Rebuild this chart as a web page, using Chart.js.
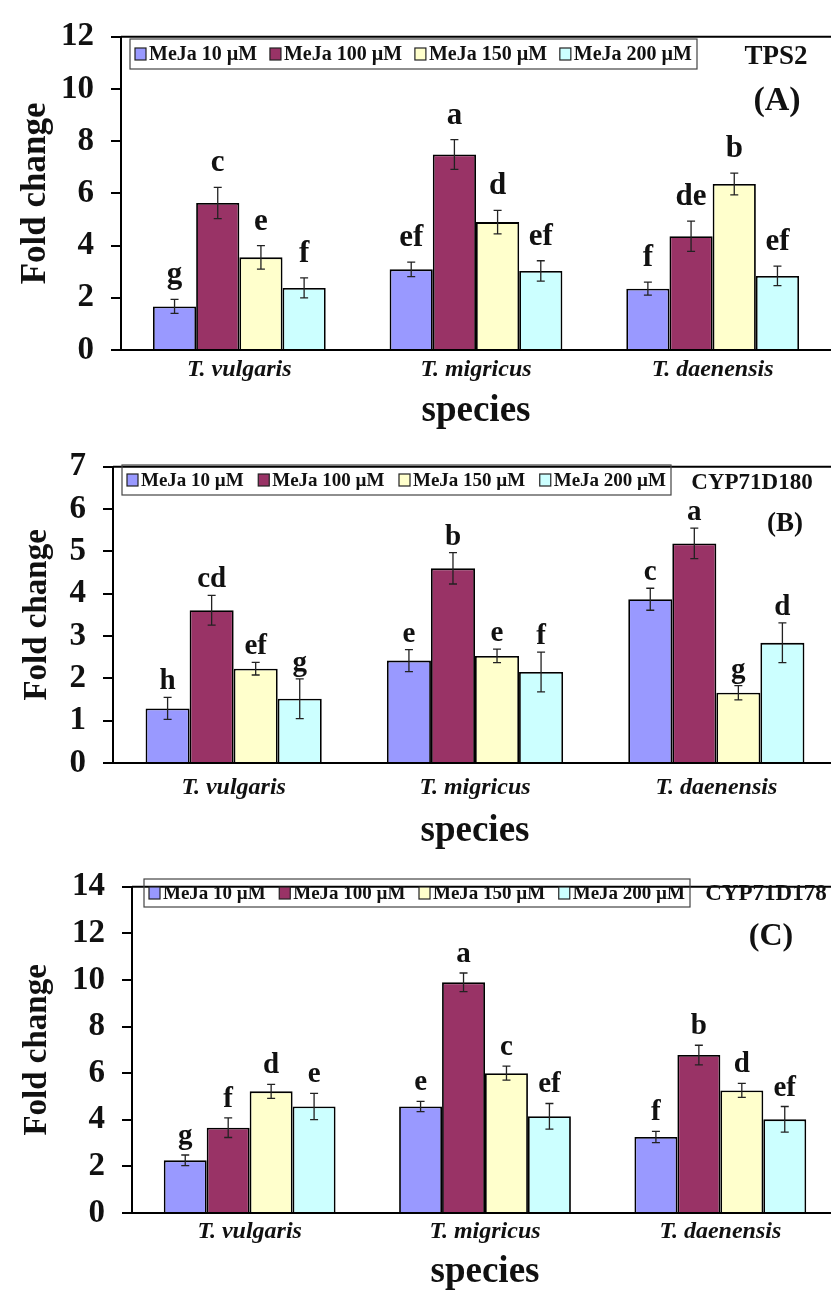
<!DOCTYPE html>
<html>
<head>
<meta charset="utf-8">
<script src="https://cdn.jsdelivr.net/npm/chart.js@4.4.1/dist/chart.umd.min.js"></script>
<style>
  html, body { margin: 0; padding: 0; background: #fff; overflow: hidden; }
  .panel { position: absolute; left: 0; }
</style>
</head>
<body>
<canvas id="chartA" class="panel" width="831" height="430" style="top:0px"></canvas>
<canvas id="chartB" class="panel" width="837" height="420" style="top:430px"></canvas>
<canvas id="chartC" class="panel" width="838" height="441" style="top:850px"></canvas>
<script>
// categories and series
const species = ['T. vulgaris', 'T. migricus', 'T. daenensis'];
const treatments = ['MeJa 10 µM', 'MeJa 100 µM', 'MeJa 150 µM', 'MeJa 200 µM'];
const treatmentColors = ['#9999ff', '#993366', '#ffffcc', '#ccffff'];

// (A) TPS2
const tps2Mean10 = [1.67, 3.09, 2.35];
const tps2Mean100 = [5.63, 7.49, 4.36];
const tps2Mean150 = [3.55, 4.90, 6.36];
const tps2Mean200 = [2.38, 3.03, 2.84];
const tps2Err10 = [0.27, 0.28, 0.25];
const tps2Err100 = [0.60, 0.57, 0.58];
const tps2Err150 = [0.45, 0.45, 0.42];
const tps2Err200 = [0.38, 0.39, 0.37];
const tps2Letters10 = ['g', 'ef', 'f'];
const tps2Letters100 = ['c', 'a', 'de'];
const tps2Letters150 = ['e', 'd', 'b'];
const tps2Letters200 = ['f', 'ef', 'ef'];
const tps2Ticks = [0, 2, 4, 6, 8, 10, 12];

// (B) CYP71D180
const cyp180Mean10 = [1.29, 2.42, 3.87];
const cyp180Mean100 = [3.61, 4.60, 5.19];
const cyp180Mean150 = [2.23, 2.53, 1.66];
const cyp180Mean200 = [1.52, 2.15, 2.84];
const cyp180Err10 = [0.26, 0.26, 0.26];
const cyp180Err100 = [0.35, 0.37, 0.36];
const cyp180Err150 = [0.15, 0.16, 0.17];
const cyp180Err200 = [0.47, 0.47, 0.47];
const cyp180Letters10 = ['h', 'e', 'c'];
const cyp180Letters100 = ['cd', 'b', 'a'];
const cyp180Letters150 = ['ef', 'e', 'g'];
const cyp180Letters200 = ['g', 'f', 'd'];
const cyp180Ticks = [0, 1, 2, 3, 4, 5, 6, 7];

// (C) CYP71D178
const cyp178Mean10 = [2.26, 4.57, 3.26];
const cyp178Mean100 = [3.66, 9.90, 6.78];
const cyp178Mean150 = [5.22, 6.00, 5.26];
const cyp178Mean200 = [4.57, 4.15, 4.02];
const cyp178Err10 = [0.23, 0.22, 0.24];
const cyp178Err100 = [0.42, 0.40, 0.42];
const cyp178Err150 = [0.30, 0.30, 0.30];
const cyp178Err200 = [0.56, 0.55, 0.55];
const cyp178Letters10 = ['g', 'e', 'f'];
const cyp178Letters100 = ['f', 'a', 'b'];
const cyp178Letters150 = ['d', 'c', 'd'];
const cyp178Letters200 = ['e', 'ef', 'ef'];
const cyp178Ticks = [0, 2, 4, 6, 8, 10, 12, 14];

const SERIF = "'Liberation Serif', 'Times New Roman', 'DejaVu Serif', serif";

// draws top frame line, error bars, letters, legend box and panel labels
function makeDecor(p) {
    return {
        id: 'decor_' + p.tag,
        afterDatasetsDraw(chart) {
            const ctx = chart.ctx;
            const area = chart.chartArea;
            const yScale = chart.scales.y;
            ctx.save();

            // top frame
            ctx.strokeStyle = '#000';
            ctx.lineWidth = 2;
            ctx.beginPath();
            ctx.moveTo(area.left, area.top);
            ctx.lineTo(area.right, area.top);
            ctx.stroke();

            // error bars and significance letters
            ctx.font = 'bold ' + p.letterSize + 'px ' + SERIF;
            ctx.textAlign = 'center';
            ctx.textBaseline = 'alphabetic';
            chart.data.datasets.forEach((ds, i) => {
                const meta = chart.getDatasetMeta(i);
                meta.data.forEach((bar, j) => {
                    const v = ds.data[j];
                    const e = p.errors[i][j];
                    const yHi = yScale.getPixelForValue(v + e);
                    const yLo = yScale.getPixelForValue(v - e);
                    ctx.strokeStyle = '#222';
                    ctx.lineWidth = 1.3;
                    ctx.beginPath();
                    ctx.moveTo(bar.x, yHi);
                    ctx.lineTo(bar.x, yLo);
                    ctx.moveTo(bar.x - 4, yHi);
                    ctx.lineTo(bar.x + 4, yHi);
                    ctx.moveTo(bar.x - 4, yLo);
                    ctx.lineTo(bar.x + 4, yLo);
                    ctx.stroke();
                    ctx.fillStyle = '#111';
                    ctx.fillText(p.letters[i][j], bar.x, yHi - p.letterGap);
                });
            });

            // legend
            const lg = p.legend;
            ctx.strokeStyle = '#444';
            ctx.lineWidth = 1.2;
            ctx.strokeRect(lg.x, lg.y, lg.w, lg.h);
            ctx.font = 'bold ' + lg.size + 'px ' + SERIF;
            ctx.textAlign = 'left';
            ctx.textBaseline = 'middle';
            const sw = 11, swGap = 3;
            const widths = treatments.map(t => ctx.measureText(t).width + sw + swGap);
            const total = widths.reduce((a, b) => a + b, 0);
            const gap = (lg.w - 10 - total) / (treatments.length - 1);
            let x = lg.x + 5;
            const cy = lg.y + lg.h / 2;
            treatments.forEach((t, k) => {
                ctx.fillStyle = treatmentColors[k];
                ctx.fillRect(x, cy - 6, sw, 12);
                ctx.strokeStyle = '#222';
                ctx.lineWidth = 1.2;
                ctx.strokeRect(x, cy - 6, sw, 12);
                ctx.fillStyle = '#111';
                ctx.fillText(t, x + sw + swGap, cy + 1);
                x += widths[k] + gap;
            });

            // gene name and panel tag
            ctx.textAlign = 'center';
            ctx.fillStyle = '#111';
            ctx.font = 'bold ' + p.gene.size + 'px ' + SERIF;
            ctx.fillText(p.gene.text, p.gene.x, p.gene.y);
            ctx.font = 'bold ' + p.tagLabel.size + 'px ' + SERIF;
            ctx.fillText(p.tagLabel.text, p.tagLabel.x, p.tagLabel.y);
            ctx.restore();
        }
    };
}

function buildPanel(canvasId, p) {
    const datasets = treatments.map((name, i) => ({
        label: name,
        data: p.means[i],
        backgroundColor: treatmentColors[i],
        borderColor: '#000',
        borderWidth: 1.8,
        borderSkipped: 'bottom',
        categoryPercentage: 0.73,
        barPercentage: 1.0
    }));

    new Chart(document.getElementById(canvasId), {
        type: 'bar',
        data: { labels: species, datasets: datasets },
        options: {
            responsive: false,
            animation: false,
            devicePixelRatio: 1,
            layout: { padding: { top: p.top, right: 0, bottom: 0, left: 0 } },
            plugins: { legend: { display: false }, tooltip: { enabled: false } },
            scales: {
                x: {
                    grid: { display: false, drawTicks: false },
                    border: { display: true, color: '#000', width: 2 },
                    ticks: {
                        color: '#111',
                        padding: p.xTickPad,
                        font: { family: SERIF, size: 24, weight: 'bold', style: 'italic' }
                    },
                    title: {
                        display: true,
                        text: 'species',
                        color: '#111',
                        font: { family: SERIF, size: 37, weight: 'bold', lineHeight: 1 },
                        padding: { top: 0, bottom: p.xTitlePad }
                    },
                    afterFit: scale => { scale.height = p.xHeight; }
                },
                y: {
                    min: p.ticks[0],
                    max: p.ticks[p.ticks.length - 1],
                    afterBuildTicks: scale => { scale.ticks = p.ticks.map(v => ({ value: v })); },
                    grid: { display: true, drawOnChartArea: false, tickLength: 10, color: '#000', lineWidth: 2 },
                    border: { display: true, color: '#000', width: 2 },
                    ticks: {
                        color: '#111',
                        padding: 17,
                        autoSkip: false,
                        font: { family: SERIF, size: 33, weight: 'bold' }
                    },
                    title: {
                        display: true,
                        text: 'Fold change',
                        color: '#111',
                        font: { family: SERIF, size: p.yTitleSize, weight: 'bold', lineHeight: 1 },
                        padding: { top: p.yTitlePad, bottom: 0 }
                    },
                    afterFit: scale => { scale.width = p.yWidth; }
                }
            }
        },
        plugins: [makeDecor(p)]
    });
}

buildPanel('chartA', {
    tag: 'A',
    means: [tps2Mean10, tps2Mean100, tps2Mean150, tps2Mean200],
    errors: [tps2Err10, tps2Err100, tps2Err150, tps2Err200],
    letters: [tps2Letters10, tps2Letters100, tps2Letters150, tps2Letters200],
    ticks: tps2Ticks,
    top: 26, yWidth: 121, xHeight: 80,
    xTickPad: 5, xTitlePad: 0, yTitleSize: 35, yTitlePad: 18,
    letterSize: 31, letterGap: 16,
    legend: { x: 130, y: 39, w: 567, h: 30, size: 20 },
    gene: { text: 'TPS2', x: 776, y: 57, size: 27 },
    tagLabel: { text: '(A)', x: 777, y: 101, size: 34 }
});

buildPanel('chartB', {
    tag: 'B',
    means: [cyp180Mean10, cyp180Mean100, cyp180Mean150, cyp180Mean200],
    errors: [cyp180Err10, cyp180Err100, cyp180Err150, cyp180Err200],
    letters: [cyp180Letters10, cyp180Letters100, cyp180Letters150, cyp180Letters200],
    ticks: cyp180Ticks,
    top: 32, yWidth: 113, xHeight: 87,
    xTickPad: 10, xTitlePad: 0, yTitleSize: 33, yTitlePad: 21,
    letterSize: 29, letterGap: 8,
    legend: { x: 122, y: 35, w: 549, h: 30, size: 19 },
    gene: { text: 'CYP71D180', x: 752, y: 53, size: 23 },
    tagLabel: { text: '(B)', x: 785, y: 94, size: 27 }
});

buildPanel('chartC', {
    tag: 'C',
    means: [cyp178Mean10, cyp178Mean100, cyp178Mean150, cyp178Mean200],
    errors: [cyp178Err10, cyp178Err100, cyp178Err150, cyp178Err200],
    letters: [cyp178Letters10, cyp178Letters100, cyp178Letters150, cyp178Letters200],
    ticks: cyp178Ticks,
    top: 24, yWidth: 132, xHeight: 78,
    xTickPad: 4, xTitlePad: 0, yTitleSize: 33, yTitlePad: 21,
    letterSize: 29, letterGap: 11,
    legend: { x: 144, y: 29, w: 546, h: 28, size: 19 },
    gene: { text: 'CYP71D178', x: 766, y: 44, size: 23 },
    tagLabel: { text: '(C)', x: 771, y: 87, size: 32 }
});
</script>
</body>
</html>
